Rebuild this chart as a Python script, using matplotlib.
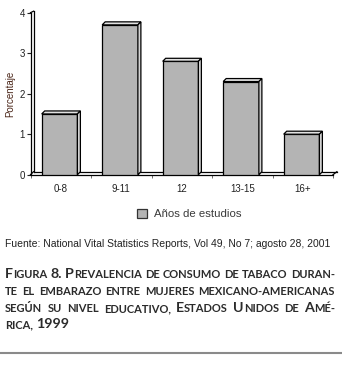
import matplotlib
matplotlib.use("Agg")
import matplotlib.pyplot as plt
from matplotlib.patches import Polygon, Patch

# data
categorias = ['0-8', '9-11', '12', '13-15', '16+']
porcentajes = [1.5, 3.7, 2.8, 2.3, 1.0]
y_ticks = [0, 1, 2, 3, 4]

fuente = 'Fuente: National Vital Statistics Reports, Vol 49, No 7; agosto 28, 2001'
# uppercase = big capital, lowercase = small capital
titulo = [
    'Figura 8. Prevalencia de consumo de tabaco duran-',
    'te el embarazo entre mujeres mexicano-americanas',
    'según su nivel educativo, Estados Unidos de Amé-',
    'rica, 1999',
]

W, H = 342, 366
fig = plt.figure(figsize=(W / 100, H / 100), dpi=100)
renderer = fig.canvas.get_renderer()

# axes placed in pixel units (front floor at y=174.7 px from top)
left, right = 30.5, 333.0
y0, y4 = 174.7, 12.7
ax = fig.add_axes([left / W, (H - y0) / H, (right - left) / W, (y0 - y4) / H])
ax.set_xlim(-0.5, 4.5)
ax.set_ylim(0, 4)

dx = 3.0 / 60.5   # depth in data units
dy = 3.0 / 40.5
bw = 0.59
xs = [i - 0.02 for i in range(len(categorias))]

bars = ax.bar(xs, porcentajes, width=bw, color='#b4b4b4', edgecolor='black',
              linewidth=0.9, zorder=3, label='Años de estudios')
for b in bars:
    x0, w, h = b.get_x(), b.get_width(), b.get_height()
    top = Polygon([(x0, h), (x0 + dx, h + dy), (x0 + w + dx, h + dy), (x0 + w, h)],
                  closed=True, fc='#e2e2e2', ec='black', lw=0.9, zorder=3)
    side = Polygon([(x0 + w, 0), (x0 + w + dx, dy), (x0 + w + dx, h + dy), (x0 + w, h)],
                   closed=True, fc='#d4d4d4', ec='black', lw=0.9, zorder=3)
    ax.add_patch(top)
    ax.add_patch(side)

# 3d frame: walls and floor
k = dict(color='black', lw=0.9, clip_on=False, zorder=2)
ax.plot([-0.5, -0.5], [0, 4], **k)
ax.plot([-0.5 + dx, -0.5 + dx], [dy, 4 + dy * 0.5], **k)
ax.plot([-0.5, -0.5 + dx], [4, 4 + dy * 0.5], **k)
ax.plot([-0.5, 4.5], [0, 0], **k)
ax.plot([-0.5 + dx, 4.5 + dx * 1.3], [dy, dy], **k)
ax.plot([4.5, 4.5 + dx * 1.3], [0, dy], **k)
ax.plot([-0.5, -0.5 + dx], [0, dy], **k)

for s in ax.spines.values():
    s.set_visible(False)
ax.set_yticks(y_ticks)
ax.tick_params(axis='y', length=3, width=0.8, pad=1, labelsize=7, colors='#222222')
ax.set_xticks([i - 0.5 for i in range(len(categorias) + 1)])
ax.set_xticklabels([])
ax.set_xticks(range(len(categorias)), minor=True)
ax.set_xticklabels(categorias, minor=True)
ax.tick_params(axis='x', which='major', length=2.5, width=0.6, color='#555555')
ax.tick_params(axis='x', which='minor', length=0, pad=7, labelsize=7, labelcolor='#222222')
for lab in ax.get_xticklabels(minor=True) + ax.get_yticklabels():
    lab.set_family(['Liberation Sans', 'DejaVu Sans'])
ax.set_ylabel('Porcentaje', fontsize=7, color='#4a2518', labelpad=3,
              family=['Liberation Sans', 'DejaVu Sans'])

fig.legend(handles=[Patch(fc='#b4b4b4', ec='#333333', lw=0.9)],
           labels=['Años de estudios'], loc='center left',
           bbox_to_anchor=(127 / W, 1 - 214 / H), frameon=False,
           handlelength=0.85, handleheight=0.85, handletextpad=0.6,
           prop={'family': ['Liberation Sans', 'DejaVu Sans'], 'size': 8.2},
           labelcolor='#3a3a3a')

# source line, shrunk to the width it has in the reference
src = fig.text(5 / W, 1 - 247 / H, fuente, fontsize=8, color='#222222',
               family=['Liberation Sans', 'DejaVu Sans'], va='baseline')
sw = src.get_window_extent(renderer).width
src.set_fontsize(8 * 328.0 / sw)

# caption in small caps, justified
big, small = 10.0, 7.8
cap_family = ['Lato', 'DejaVu Sans']
x_start, x_end = 5.0, 335.0
baselines = [278, 295, 312, 328]
min_gap = 3.0


def segments(word):
    out = []
    for ch in word:
        if ch.isalpha():
            size = 'small' if ch.islower() else 'big'
        elif ch.isdigit() or not out:
            size = 'big'
        else:
            size = out[-1][1]
        if out and out[-1][1] == size:
            out[-1][0] += ch.upper()
        else:
            out.append([ch.upper(), size])
    return out


def build(line, scale):
    pieces, widths = [], []
    for wd in line.split(' '):
        arts, wsum = [], 0
        for txt, size in segments(wd):
            fs = (big if size == 'big' else small) * scale
            t = fig.text(0, 0, txt, fontsize=fs, fontweight='bold', family=cap_family,
                         color='#2b2b2b', va='baseline', ha='left')
            wpx = t.get_window_extent(renderer).width
            arts.append((t, wpx))
            wsum += wpx
        pieces.append(arts)
        widths.append(wsum)
    return pieces, widths


# find a common scale so the tightest justified line keeps a small word gap
scale = 10.0
for n, line in enumerate(titulo[:-1]):
    pieces, widths = build(line, 1.0)
    nw = len(widths)
    s = (x_end - x_start - (nw - 1) * min_gap) / sum(widths)
    scale = min(scale, s)
    for arts in pieces:
        for t, _ in arts:
            t.remove()

for n, line in enumerate(titulo):
    pieces, widths = build(line, scale)
    if n < len(titulo) - 1:
        gap = (x_end - x_start - sum(widths)) / (len(widths) - 1)
    else:
        gap = min_gap
    x = x_start
    yb = 1 - baselines[n] / H
    for arts in pieces:
        for t, wpx in arts:
            t.set_position((x / W, yb))
            x += wpx
        x += gap

fig.add_artist(plt.Line2D([0, 1], [1 - 353 / H, 1 - 353 / H], color='#8a8a8a', lw=1.5))

fig.savefig('out.png', dpi=100)
